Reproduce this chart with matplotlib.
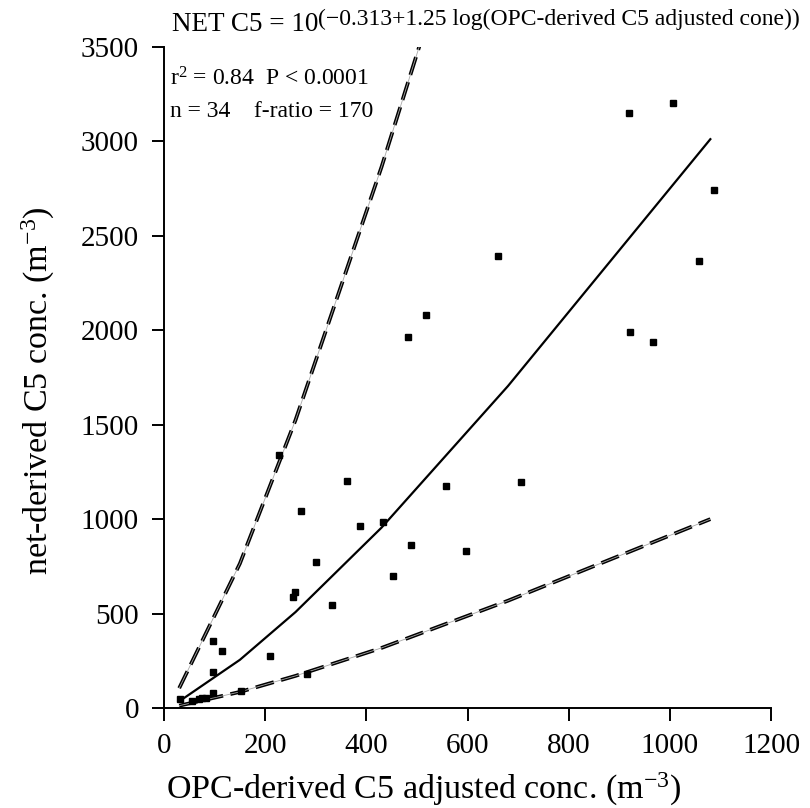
import numpy as np
import matplotlib
matplotlib.use("Agg")
import matplotlib.pyplot as plt

plt.rcParams["font.family"] = ["Liberation Serif", "DejaVu Serif"]
plt.rcParams["mathtext.fontset"] = "custom"
plt.rcParams["mathtext.rm"] = "Liberation Serif"
plt.rcParams["mathtext.it"] = "Liberation Serif:italic"
plt.rcParams["mathtext.default"] = "regular"

# ── Data ───────────────────────────────────────────────────────────────────
obs_x = [482, 517, 228, 361, 270, 387, 433, 557, 706, 488, 596, 301, 453,
         258, 254, 660, 1058, 921, 966, 919, 1006, 1087, 333, 210, 96, 115,
         96, 96, 76, 82, 70, 32, 56, 153, 283]
obs_y = [1962, 2080, 1339, 1203, 1043, 965, 983, 1175, 1195, 864, 831, 773,
         697, 612, 586, 2394, 2368, 1992, 1937, 3151, 3205, 2744, 545, 274,
         356, 300, 189, 81, 53, 53, 48, 46, 39, 88, 180]

fit_x = [30, 150, 260, 430, 680, 1080]
fit_y = [35, 255, 508, 955, 1705, 3012]

upper_x = [30, 150, 260, 430, 530]
upper_y = [105, 765, 1525, 2865, 3720]

lower_x = [30, 150, 260, 430, 680, 1080]
lower_y = [12, 85, 170, 318, 568, 1000]

x_ticks = [0, 200, 400, 600, 800, 1000, 1200]
y_ticks = [0, 500, 1000, 1500, 2000, 2500, 3000, 3500]

# ── Figure ─────────────────────────────────────────────────────────────────
fig = plt.figure(figsize=(8.1, 8.08), dpi=100)
ax = fig.add_axes([0.2025, 0.1238, 0.7494, 0.818])

dash = (0, (5, 2))
for xs, ys in [(upper_x, upper_y), (lower_x, lower_y)]:
    ax.plot(xs, ys, color="black", lw=2.7, linestyle=dash, zorder=2)
    ax.plot(xs, ys, color="#a8a8a8", lw=0.6, zorder=3)

ax.plot(fit_x, fit_y, color="black", lw=1.6, zorder=3)
ax.plot(obs_x, obs_y, "s", color="black", ms=5, zorder=4)

ax.set_xlim(0, 1200)
ax.set_ylim(0, 3500)
ax.set_xticks(x_ticks)
ax.set_yticks(y_ticks)
ax.tick_params(direction="out", length=9, width=1.4, labelsize=21, pad=9)

for side in ("top", "right"):
    ax.spines[side].set_visible(False)
for side in ("left", "bottom"):
    ax.spines[side].set_linewidth(1.4)

ax.set_xlabel("OPC-derived C5 adjusted conc. (m$^{-3}$)", fontsize=24.5)
ax.xaxis.set_label_coords(0.427, -0.095)
ax.set_ylabel("net-derived C5 conc. (m$^{-3}$)", fontsize=24.5)
ax.yaxis.set_label_coords(-0.176, 0.48)

ax.text(0.01, 0.952, "r$^{2}$ = 0.84  P < 0.0001", transform=ax.transAxes,
        fontsize=17, ha="left", va="center")
ax.text(0.01, 0.902, "n = 34    f-ratio = 170", transform=ax.transAxes,
        fontsize=17, ha="left", va="center")

# title: base with a long superscript exponent
t_main = fig.text(172 / 810, 1 - 31 / 808, "NET C5 = 10", fontsize=19.5,
                  ha="left", va="baseline")
fig.canvas.draw()
bb = t_main.get_window_extent()
fig.text(bb.x1 / 810, 1 - 25 / 808,
         "(\u22120.313+1.25 log(OPC-derived C5 adjusted cone))",
         fontsize=17, ha="left", va="baseline")

fig.savefig("out.png", dpi=100)
